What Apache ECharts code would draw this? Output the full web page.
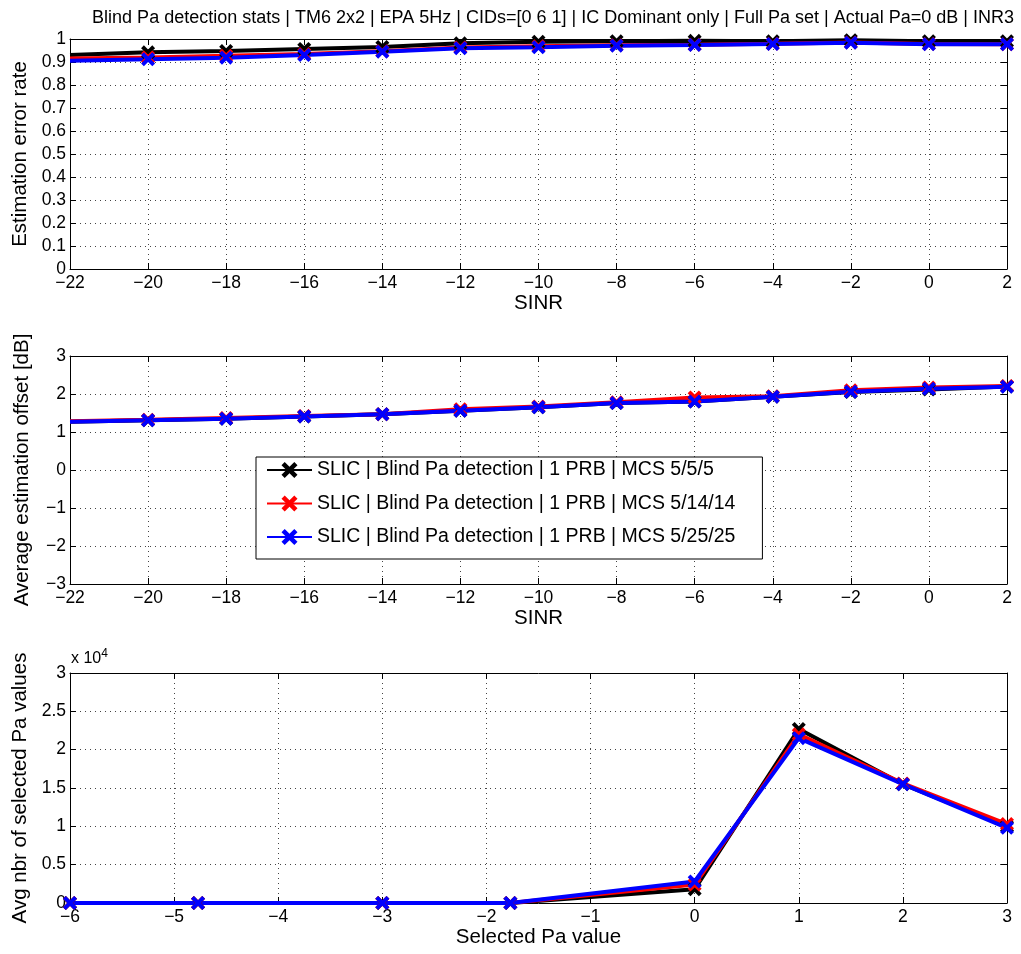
<!DOCTYPE html>
<html>
<head>
<meta charset="utf-8">
<script src="https://cdn.jsdelivr.net/npm/echarts@6/dist/echarts.min.js"></script>
<style>
  html, body { margin: 0; padding: 0; background: #fff; }
  #chart { width: 1021px; height: 954px; }
</style>
</head>
<body>
<div id="chart"></div>
<script>
// ---- data ----
const sinr = [-22, -20, -18, -16, -14, -12, -10, -8, -6, -4, -2, 0, 2]
const errBlack = [0.93, 0.942, 0.948, 0.957, 0.965, 0.981, 0.988, 0.99, 0.992, 0.99, 0.995, 0.99, 0.99]
const errRed = [0.915, 0.92, 0.927, 0.935, 0.947, 0.963, 0.968, 0.973, 0.975, 0.979, 0.985, 0.978, 0.977]
const errBlue = [0.905, 0.912, 0.919, 0.93, 0.945, 0.96, 0.964, 0.971, 0.974, 0.978, 0.984, 0.977, 0.977]

const offBlack = [1.27, 1.31, 1.35, 1.41, 1.47, 1.56, 1.65, 1.76, 1.8, 1.93, 2.05, 2.12, 2.2]
const offRed = [1.28, 1.32, 1.37, 1.42, 1.47, 1.6, 1.67, 1.78, 1.91, 1.94, 2.1, 2.17, 2.21]
const offBlue = [1.27, 1.31, 1.35, 1.41, 1.47, 1.56, 1.65, 1.76, 1.8, 1.93, 2.06, 2.14, 2.19]

const paValues = [-6, -4.77, -3, -1.77, 0, 1, 2, 3]
const cntBlack = [0, 0, 0, 0, 1800, 22700, 15500, 10000]
const cntRed = [0, 0, 0, 0, 2400, 22000, 15600, 10300]
const cntBlue = [0, 0, 0, 0, 2800, 21500, 15500, 9800]

const seriesNames = [
  'SLIC | Blind Pa detection | 1 PRB | MCS 5/5/5',
  'SLIC | Blind Pa detection | 1 PRB | MCS 5/14/14',
  'SLIC | Blind Pa detection | 1 PRB | MCS 5/25/25',
]
const colors = ['#000000', '#ff0000', '#0000ff']

const titleText = 'Blind Pa detection stats | TM6 2x2 | EPA 5Hz | CIDs=[0 6 1] | IC Dominant only | Full Pa set | Actual Pa=0 dB | INR3'

// ---- styling ----
const FONT = '"Liberation Sans", Arial, sans-serif'
const XMARK = 'path://M0,2 L2,0 L5,3 L8,0 L10,2 L7,5 L10,8 L8,10 L5,7 L2,10 L0,8 L3,5 Z'
const fmtNum = v => String(+v.toFixed(2)).replace('-', '\u2212')

const grids = [
  { left: 70, top: 39, width: 937, height: 230 },
  { left: 70, top: 356, width: 937, height: 228 },
  { left: 70, top: 673, width: 937, height: 230 },
]

function xAxisPair(gi, min, max, interval, name) {
  const common = {
    gridIndex: gi, type: 'value', min, max, interval,
    axisLine: { show: true, onZero: false, lineStyle: { color: '#000', width: 1 } },
    axisTick: { show: true, inside: true, length: 6, lineStyle: { color: '#000' } },
  }
  return [
    Object.assign({}, common, {
      position: 'bottom',
      name, nameLocation: 'middle', nameGap: 24,
      nameTextStyle: { fontFamily: FONT, fontSize: 20.5, color: '#000' },
      axisLabel: { fontFamily: FONT, fontSize: 17.5, color: '#000', margin: 5, formatter: fmtNum },
      splitLine: { show: true, lineStyle: { color: '#444', type: [1, 4], width: 1 } },
    }),
    Object.assign({}, common, {
      position: 'top', axisLabel: { show: false }, splitLine: { show: false },
    }),
  ]
}

function yAxisPair(gi, min, max, interval, name, fmt) {
  const common = {
    gridIndex: gi, type: 'value', min, max, interval,
    axisLine: { show: true, onZero: false, lineStyle: { color: '#000', width: 1 } },
    axisTick: { show: true, inside: true, length: 6, lineStyle: { color: '#000' } },
  }
  return [
    Object.assign({}, common, {
      position: 'left',
      name, nameLocation: 'middle', nameGap: 37,
      nameTextStyle: { fontFamily: FONT, fontSize: 20.5, color: '#000' },
      axisLabel: { fontFamily: FONT, fontSize: 17.5, color: '#000', margin: 4, formatter: fmt || fmtNum },
      splitLine: { show: true, lineStyle: { color: '#444', type: [1, 4], width: 1 } },
    }),
    Object.assign({}, common, {
      position: 'right', axisLabel: { show: false }, splitLine: { show: false },
    }),
  ]
}

const xAxes = [].concat(
  xAxisPair(0, -22, 2, 2, 'SINR'),
  xAxisPair(1, -22, 2, 2, 'SINR'),
  xAxisPair(2, -6, 3, 1, 'Selected Pa value')
)
const yAxes = [].concat(
  yAxisPair(0, 0, 1, 0.1, 'Estimation error rate'),
  yAxisPair(1, -3, 3, 1, 'Average estimation offset [dB]'),
  yAxisPair(2, 0, 30000, 5000, 'Avg nbr of selected Pa values', v => fmtNum(v / 10000))
)

function makeSeries(xs, ys, k, axisIdx, hideFirst) {
  return {
    name: seriesNames[k],
    type: 'line',
    xAxisIndex: axisIdx, yAxisIndex: axisIdx,
    data: xs.map((x, i) => [x, ys[i]]),
    symbol: XMARK,
    symbolSize: (val) => (hideFirst && val[0] === xs[0] ? 0 : 14),
    showAllSymbol: true,
    lineStyle: { color: colors[k], width: 4 },
    itemStyle: { color: colors[k] },
    animation: false,
    clip: false,
  }
}

const series = [
  makeSeries(sinr, errBlack, 0, 0, true),
  makeSeries(sinr, errRed, 1, 0, true),
  makeSeries(sinr, errBlue, 2, 0, true),
  makeSeries(sinr, offBlack, 0, 2, true),
  makeSeries(sinr, offRed, 1, 2, true),
  makeSeries(sinr, offBlue, 2, 2, true),
  makeSeries(paValues, cntBlack, 0, 4, false),
  makeSeries(paValues, cntRed, 1, 4, false),
  makeSeries(paValues, cntBlue, 2, 4, false),
]

const chart = echarts.init(document.getElementById('chart'), null, { renderer: 'canvas' })
chart.setOption({
  backgroundColor: '#fff',
  animation: false,
  title: {
    text: titleText,
    left: 548, top: 4, textAlign: 'center',
    textStyle: { fontFamily: FONT, fontSize: 18, fontWeight: 'normal', color: '#000' },
  },
  grid: grids.map(g => Object.assign({ show: false, containLabel: false }, g)),
  xAxis: xAxes,
  yAxis: yAxes,
  legend: {
    data: seriesNames,
    orient: 'vertical',
    left: 256, top: 457,
    padding: [3, 27, 12, 10],
    itemWidth: 45, itemHeight: 20, itemGap: 13.5,
    backgroundColor: '#fff',
    borderColor: '#000', borderWidth: 1,
    textStyle: { fontFamily: FONT, fontSize: 19.5, color: '#000' },
    selectedMode: false,
  },
  graphic: [{
    type: 'text',
    left: 71, top: 648,
    style: {
      text: '{a|x 10}{b|4}',
      rich: {
        a: { fontFamily: FONT, fontSize: 16, fill: '#000' },
        b: { fontFamily: FONT, fontSize: 12, fill: '#000', verticalAlign: 'top', padding: [0, 0, 9, 0] },
      },
    },
  }],
  series,
})
</script>
</body>
</html>
